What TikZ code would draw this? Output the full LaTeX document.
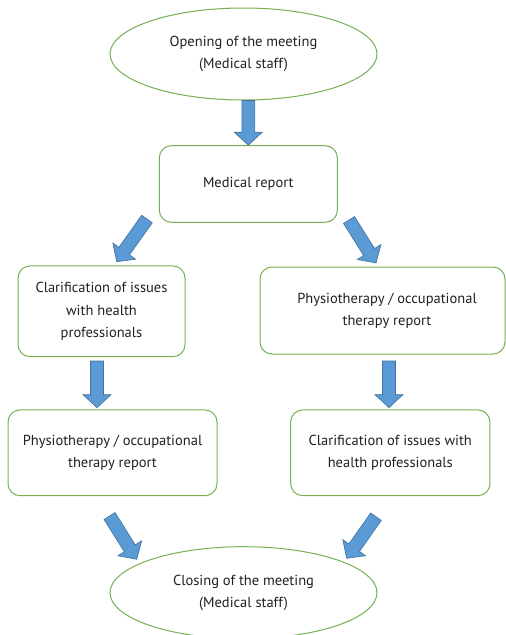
\documentclass[tikz,border=0pt]{standalone}
\usepackage{fontspec}
\setmainfont{PT Sans}
\usetikzlibrary{shapes.geometric,calc}
\definecolor{boxgreen}{HTML}{77B050}
\definecolor{arrfill}{HTML}{5B9BD5}
\definecolor{arrline}{HTML}{41719C}
\definecolor{txt}{HTML}{231F20}
\newcommand\blockarrow[2]{%
  \coordinate (#1h) at ($(#2)!13pt!(#1)$);
  \filldraw[arrowshape]
    ($(#1)!6.5pt!90:(#2)$) -- ($(#1h)!6.5pt!90:(#2)$) -- ($(#1h)!14pt!90:(#2)$) -- (#2)
    -- ($(#1h)!14pt!-90:(#2)$) -- ($(#1h)!6.5pt!-90:(#2)$) -- ($(#1)!6.5pt!-90:(#2)$) -- cycle;}
\tikzset{
  lbl/.style={text=txt, align=center, font=\fontsize{14.5pt}{22.3pt}\selectfont},
  ell/.style={lbl, ellipse, draw=boxgreen, line width=1pt, minimum width=267pt, minimum height=92pt, inner sep=0pt},
  rbox/.style={lbl, rectangle, rounded corners=12pt, draw=boxgreen, line width=1pt, inner sep=0pt},
  arrowshape/.style={fill=arrfill, draw=arrline, line width=0.6pt, line join=miter}
}
\begin{document}
\begin{tikzpicture}[x=1pt,y=-1pt]
\useasboundingbox (0,0) rectangle (506,635);
\fill[white] (0,0) rectangle (506,635);
\node[ell] (open) at (243.5,54) {Opening of the meeting\\(Medical staff)};
\node[rbox, minimum width=178pt, minimum height=76.6pt] (med) at (248.3,184) {Medical report};
\node[rbox, minimum width=167pt, minimum height=90.7pt] (cl1) at (101.5,311.3) {Clarification of issues\\with health\\professionals};
\node[rbox, minimum width=245pt, minimum height=87pt] (ph1) at (382.5,310.5) {\hspace*{9pt}Physiotherapy / occupational\\\hspace*{9pt}therapy report};
\node[rbox, minimum width=209pt, minimum height=85.7pt] (ph2) at (112.5,452.8) {Physiotherapy / occupational\\therapy report};
\node[rbox, minimum width=199.3pt, minimum height=85.7pt] (cl2) at (390.3,452.8) {Clarification of issues with\\health professionals};
\node[ell] (close) at (243.5,592.7) {Closing of the meeting\\(Medical staff)};
% arrow end points
\coordinate (a1s) at (med.north |- open.south);
\coordinate (a1e) at (med.north);
\coordinate (a2s) at (147,219);
\coordinate (a2e) at (116.7,261.7);
\coordinate (a3s) at (349,220);
\coordinate (a3e) at (376,263);
\coordinate (a4s) at (97,361);
\coordinate (a4e) at (97,407.7);
\coordinate (a5s) at (389,361);
\coordinate (a5e) at (389,407.7);
\coordinate (a6s) at (109.5,516);
\coordinate (a6e) at (136.7,559.3);
\coordinate (a7s) at (376,516.7);
\coordinate (a7e) at (346.7,558.3);
\blockarrow{a1s}{a1e}
\blockarrow{a2s}{a2e}
\blockarrow{a3s}{a3e}
\blockarrow{a4s}{a4e}
\blockarrow{a5s}{a5e}
\blockarrow{a6s}{a6e}
\blockarrow{a7s}{a7e}
\end{tikzpicture}
\end{document}
